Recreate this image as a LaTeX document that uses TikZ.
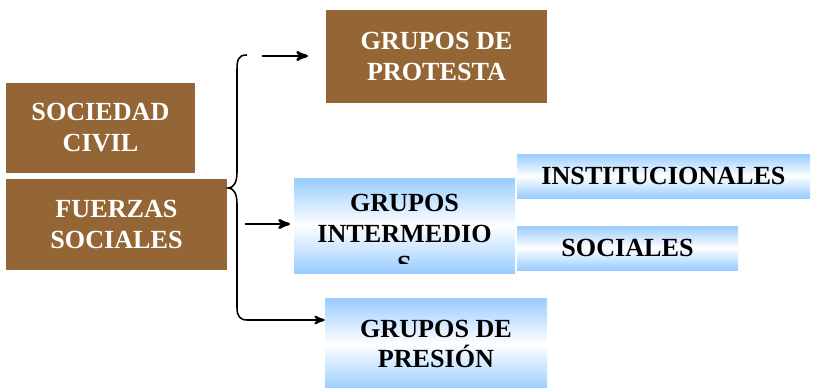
\documentclass[tikz,border=0pt]{standalone}
\usepackage{fontspec}
\setmainfont{Liberation Serif}
\usetikzlibrary{shapes, arrows}
\usepackage{xcolor}
\definecolor{cafe}{HTML}{946535}
\definecolor{celeste}{HTML}{99CCFF}
\begin{document}
\begin{tikzpicture}
		\tikzstyle{cafebox} = [rectangle, fill=cafe, text=white, align=center, font=\fontsize{18.6}{22}\selectfont\bfseries, inner sep=0pt]
		\tikzstyle{azulbox} = [rectangle, top color=celeste, bottom color=celeste, middle color=white, align=center, font=\fontsize{18.6}{22}\selectfont\bfseries, inner sep=0pt]
		\tikzstyle{connector} = [draw, line width=1.8pt, -stealth']
		\useasboundingbox (0,0) rectangle (20.4,-9.7);
		\node [cafebox, minimum width=4.725cm, minimum height=2.25cm] at (2.5125,-3.2) (civil) {SOCIEDAD\\CIVIL};
		\node [cafebox, minimum width=5.525cm, minimum height=2.275cm] at (2.9125,-5.6125) (fuerzas) {FUERZAS\\SOCIALES};
		\node [cafebox, minimum width=5.525cm, minimum height=2.325cm] at (10.9125,-1.4125) (protesta) {GRUPOS DE\\PROTESTA};
		\node [azulbox, minimum width=5.525cm, minimum height=2.375cm] at (10.1125,-5.6375) (intermedios) {};
		\begin{scope}
			\clip (intermedios.north west) rectangle (intermedios.east |- 0,-6.575);
			\node [align=center, font=\fontsize{18.6}{22}\selectfont\bfseries] at (10.1125,-5.85) (intertxt) {GRUPOS\\INTERMEDIO\\S};
		\end{scope}
		\node [azulbox, minimum width=7.325cm, minimum height=1.1cm] at (16.5875,-4.4) (instit) {INSTITUCIONALES};
		\node [azulbox, minimum width=5.525cm, minimum height=1.1cm] at (15.6875,-6.2) (sociales) {SOCIALES};
		\node [azulbox, minimum width=5.55cm, minimum height=2.3cm] at (10.9,-8.6) (presion) {GRUPOS DE\\PRESI\'ON};
		% llave
		\coordinate (llavetop) at (6.175,-1.375);
		\coordinate (llavetip) at (5.7,-4.7);
		\coordinate (llavebot) at (6.175,-8.0);
		\draw [line width=1.1pt] (llavetop) .. controls (5.95,-1.375) and (5.925,-1.5) .. (5.925,-1.75)
			-- (5.925,-4.3) .. controls (5.925,-4.55) and (5.85,-4.7) .. (llavetip)
			.. controls (5.85,-4.7) and (5.925,-4.85) .. (5.925,-5.1)
			-- (5.925,-7.7) .. controls (5.925,-7.9) and (6.0,-8.0) .. (llavebot);
		\coordinate (a1s) at (6.55,-1.4);
		\coordinate (a1e) at (7.7,-1.4);
		\coordinate (a2s) at (6.125,-5.6);
		\coordinate (a2e) at (7.25,-5.6);
		\path [connector] (a1s) -- (a1e);
		\path [connector] (a2s) -- (a2e);
		\path [connector, line width=1.5pt] (llavebot) -- (presion.west |- llavebot);
	\end{tikzpicture}
\end{document}
